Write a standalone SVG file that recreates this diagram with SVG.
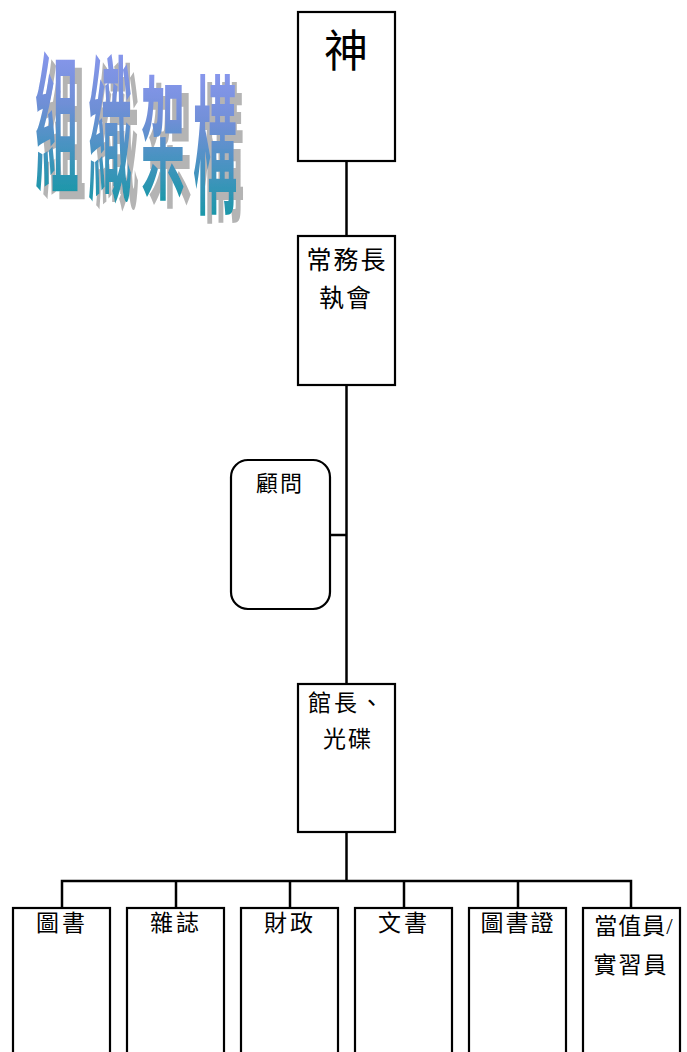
<svg xmlns="http://www.w3.org/2000/svg" width="687" height="1052" viewBox="0 0 687 1052">
<defs>
<linearGradient id="wa" x1="0" y1="0" x2="0" y2="1">
<stop offset="0" stop-color="#9d9dff"/>
<stop offset="0.45" stop-color="#6f8fd6"/>
<stop offset="1" stop-color="#009a9a"/>
</linearGradient>
<filter id="shadow" x="-10%" y="-10%" width="130%" height="130%">
<feFlood flood-color="#b4b4b4" result="c"/>
<feComposite in="c" in2="SourceAlpha" operator="in" result="s"/>
<feOffset in="s" dx="7" dy="8" result="o"/>
<feMerge><feMergeNode in="o"/><feMergeNode in="SourceGraphic"/></feMerge>
</filter>
</defs>
<style>
.box{fill:#fff;stroke:#000;stroke-width:2.2}
.ln{fill:none;stroke:#000;stroke-width:2.5}
.t{font-family:"Liberation Serif","Noto Sans CJK TC",serif;fill:#000;text-anchor:middle}
.wa{font-family:"Noto Sans CJK TC",sans-serif;font-weight:bold;text-anchor:middle;font-size:44px;fill:url(#wa)}
</style>
<rect width="687" height="1052" fill="#fff"/>
<g id="title" filter="url(#shadow)">
<text class="wa" transform="translate(57,180) scale(1,3.4)">組</text>
<text class="wa" transform="translate(110,191) scale(1,3.68)">織</text>
<text class="wa" transform="translate(163,188) scale(1,3.03)">架</text>
<text class="wa" transform="translate(215,202) scale(1,3.4)">構</text>
</g>
<g id="connectors">
<line class="ln" x1="346.5" y1="161" x2="346.5" y2="236"/>
<line class="ln" x1="346.5" y1="385" x2="346.5" y2="684"/>
<line class="ln" x1="330" y1="535" x2="346.5" y2="535"/>
<line class="ln" x1="346.5" y1="832" x2="346.5" y2="881"/>
<polyline class="ln" points="62,908 62,881 631,881 631,908"/>
<line class="ln" x1="176" y1="881" x2="176" y2="908"/>
<line class="ln" x1="290" y1="881" x2="290" y2="908"/>
<line class="ln" x1="404" y1="881" x2="404" y2="908"/>
<line class="ln" x1="518" y1="881" x2="518" y2="908"/>
</g>
<g id="god">
<rect class="box" x="298" y="12" width="97" height="149"/>
<text class="t" x="346" y="67" font-size="44">神</text>
</g>
<g id="executive">
<rect class="box" x="298" y="236" width="97" height="149"/>
<text class="t" x="347" y="269" font-size="25" letter-spacing="2">常務長</text>
<text class="t" x="346" y="307" font-size="25" letter-spacing="2">執會</text>
</g>
<g id="advisor">
<rect class="box" x="231" y="460" width="99" height="149" rx="17" ry="17"/>
<text class="t" x="280" y="491" font-size="22" letter-spacing="2">顧問</text>
</g>
<g id="director">
<rect class="box" x="298" y="684" width="97" height="148"/>
<text class="t" x="347" y="711" font-size="23" letter-spacing="3">館長、</text>
<text class="t" x="348" y="747" font-size="23" letter-spacing="2">光碟</text>
</g>
<g id="books">
<rect class="box" x="13" y="908" width="97" height="150"/>
<text class="t" x="62" y="931" font-size="23" letter-spacing="3">圖書</text>
</g>
<g id="magazines">
<rect class="box" x="127" y="908" width="97" height="150"/>
<text class="t" x="176" y="931" font-size="23" letter-spacing="3">雜誌</text>
</g>
<g id="finance">
<rect class="box" x="241" y="908" width="97" height="150"/>
<text class="t" x="290" y="931" font-size="23" letter-spacing="3">財政</text>
</g>
<g id="documents">
<rect class="box" x="355" y="908" width="97" height="150"/>
<text class="t" x="404" y="931" font-size="23" letter-spacing="3">文書</text>
</g>
<g id="librarycard">
<rect class="box" x="469" y="908" width="97" height="150"/>
<text class="t" x="518" y="931" font-size="23" letter-spacing="2">圖書證</text>
</g>
<g id="duty">
<rect class="box" x="583" y="908" width="97" height="150"/>
<text class="t" x="634" y="934" font-size="23" letter-spacing="1">當值員/</text>
<text class="t" x="631" y="973" font-size="23" letter-spacing="2">實習員</text>
</g>
</svg>
